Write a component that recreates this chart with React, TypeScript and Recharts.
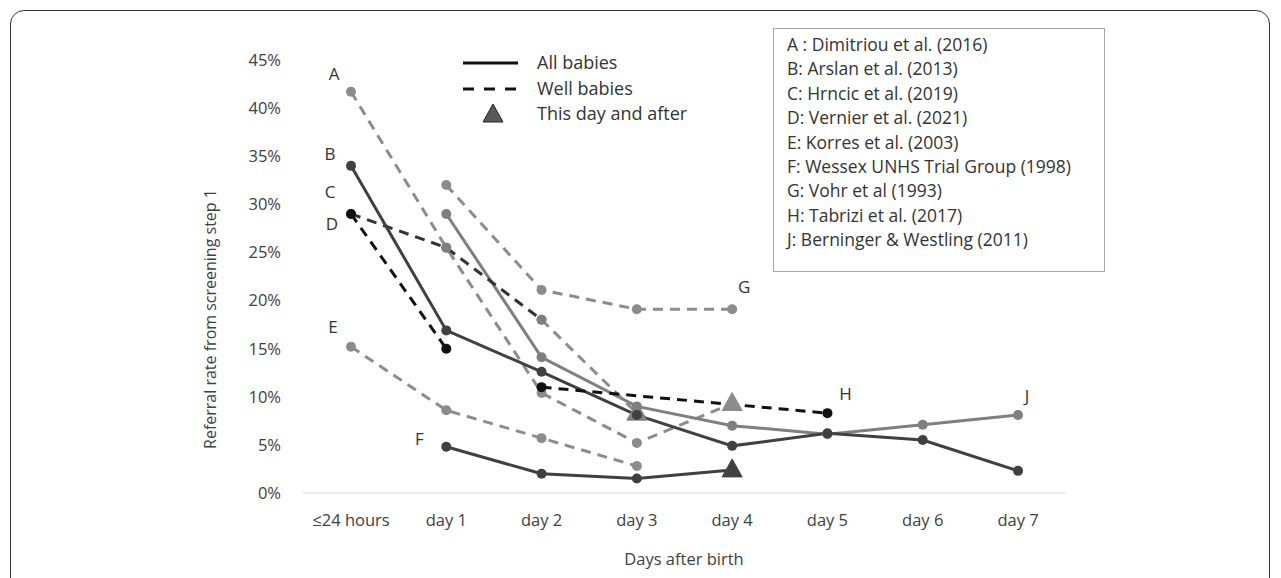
import React from 'react'
import { LineChart, Line, XAxis, YAxis, Label } from 'recharts'

// categories on the x axis
const days = ['≤24 hours', 'day 1', 'day 2', 'day 3', 'day 4', 'day 5', 'day 6', 'day 7']
const yTicks = [0, 5, 10, 15, 20, 25, 30, 35, 40, 45]

// referral rates (%) per study
const dimitriou = [41.7, 25.5, 10.4, 5.2, 9.3, null, null, null]
const arslan = [34.0, 16.9, 12.6, 8.1, 4.9, 6.2, 5.5, 2.3]
const hrncic = [29.0, 15.0, null, null, null, null, null, null]
const vernier = [29.0, 25.5, 18.0, 8.3, null, null, null, null]
const korres = [15.2, 8.6, 5.7, 2.8, null, null, null, null]
const wessex = [null, 4.8, 2.0, 1.5, 2.4, null, null, null]
const vohr = [null, 32.0, 21.1, 19.1, 19.1, null, null, null]
const tabrizi = [null, null, 11.0, null, null, 8.3, null, null]
const berninger = [null, 29.0, 14.1, 9.0, 7.0, 6.1, 7.1, 8.1]

// "this day and after" points
const afterA = 'day 4'
const afterD = 'day 3'
const afterF = 'day 4'

const studies = [
  'A : Dimitriou et al. (2016)',
  'B: Arslan et al. (2013)',
  'C: Hrncic et al. (2019)',
  'D: Vernier et al. (2021)',
  'E: Korres et al. (2003)',
  'F: Wessex UNHS Trial Group (1998)',
  'G: Vohr et al (1993)',
  'H: Tabrizi et al. (2017)',
  'J: Berninger & Westling (2011)',
]

const data = days.map((d, i) => ({
  day: d,
  A: dimitriou[i],
  B: arslan[i],
  C: hrncic[i],
  D1: i <= 2 ? vernier[i] : null,
  D2: i >= 2 ? vernier[i] : null,
  E: korres[i],
  F: wessex[i],
  G: vohr[i],
  H: tabrizi[i],
  J: berninger[i],
}))

const DARK = '#404040'
const GRAY = '#8c8c8c'
const MID = '#7f7f7f'
const BLACK = '#111111'

const makeDot = (fill: string, tri?: string, r = 5) => (p: any) => {
  if (p.value == null || p.cx == null) return <g key={`e-${p.index}`} />
  if (tri && p.payload.day === tri) {
    const { cx, cy } = p
    return (
      <polygon
        key={`t-${p.index}`}
        points={`${cx},${cy - 11} ${cx - 10},${cy + 7} ${cx + 10},${cy + 7}`}
        fill={fill}
        stroke={fill}
        strokeWidth={1}
      />
    )
  }
  return <circle key={`c-${p.index}`} cx={p.cx} cy={p.cy} r={r} fill={fill} stroke="none" />
}

const letter = (ch: string, at: number, dx: number, dy: number) => (p: any) => {
  if (p.index !== at || p.x == null) return null
  return (
    <text x={p.x + dx} y={p.y + dy} fill="#333" fontSize={17} textAnchor="middle" dominantBaseline="central">
      {ch}
    </text>
  )
}

export default function App() {
  return (
    <div style={{ position: 'fixed', left: 0, top: 0, width: 1281, height: 578, background: '#fff', overflow: 'hidden', fontFamily: "'Open Sans', sans-serif" }}>
      <div style={{ position: 'absolute', left: 10, top: 10, width: 1260, height: 640, border: '1px solid #333', borderRadius: 14, boxSizing: 'border-box' }} />

      <LineChart width={1281} height={578} data={data} margin={{ top: 60, right: 215, bottom: 55, left: 243 }}>
        <XAxis
          dataKey="day"
          padding={{ left: 48, right: 48 }}
          tickLine={false}
          tickSize={0}
          tickMargin={21}
          stroke="#d9d9d9"
          height={30}
          tick={{ fill: '#404040', fontSize: 16.5 }}
          interval={0}
        >
          <Label
            content={() => (
              <text x={684} y={558} textAnchor="middle" dominantBaseline="central" fill="#404040" fontSize={16.5}>
                Days after birth
              </text>
            )}
          />
        </XAxis>
        <YAxis
          domain={[0, 45]}
          ticks={yTicks}
          tickFormatter={(v) => `${v}%`}
          axisLine={false}
          tickLine={false}
          tickSize={0}
          tickMargin={22}
          width={60}
          tick={{ fill: '#404040', fontSize: 16.5 }}
        >
          <Label
            content={() => (
              <text x={210} y={319} transform="rotate(-90 210 319)" textAnchor="middle" dominantBaseline="central" fill="#404040" fontSize={16}>
                Referral rate from screening step 1
              </text>
            )}
          />
        </YAxis>

        <Line dataKey="E" stroke={GRAY} strokeWidth={3} strokeDasharray="10 7" dot={makeDot(GRAY)} label={letter('E', 0, -18, -20)} isAnimationActive={false} />
        <Line dataKey="A" stroke={GRAY} strokeWidth={3} strokeDasharray="10 7" dot={makeDot(GRAY, afterA)} label={letter('A', 0, -17, -18)} isAnimationActive={false} />
        <Line dataKey="G" stroke={GRAY} strokeWidth={3} strokeDasharray="10 7" dot={makeDot(GRAY)} label={letter('G', 4, 12, -23)} isAnimationActive={false} />
        <Line dataKey="J" stroke={MID} strokeWidth={3} dot={makeDot(MID)} label={letter('J', 7, 9, -20)} isAnimationActive={false} />
        <Line dataKey="D2" stroke={GRAY} strokeWidth={3} strokeDasharray="10 7" dot={makeDot(MID, afterD)} isAnimationActive={false} />
        <Line dataKey="D1" stroke="#333" strokeWidth={3} strokeDasharray="10 7" dot={makeDot(MID)} label={letter('D', 0, -19, 10)} isAnimationActive={false} />
        <Line dataKey="F" stroke={DARK} strokeWidth={3} dot={makeDot(DARK, afterF)} label={letter('F', 1, -27, -8)} isAnimationActive={false} />
        <Line dataKey="B" stroke={DARK} strokeWidth={3} dot={makeDot(DARK)} label={letter('B', 0, -21, -12)} isAnimationActive={false} />
        <Line dataKey="H" stroke={BLACK} strokeWidth={3} strokeDasharray="10 7" connectNulls dot={makeDot(BLACK)} label={letter('H', 5, 18, -20)} isAnimationActive={false} />
        <Line dataKey="C" stroke={BLACK} strokeWidth={3} strokeDasharray="10 7" dot={makeDot(BLACK)} label={letter('C', 0, -21, -22)} isAnimationActive={false} />
      </LineChart>

      {/* line style key */}
      <svg style={{ position: 'absolute', left: 455, top: 50 }} width={70} height={80}>
        <line x1={8} x2={63} y1={13} y2={13} stroke="#111" strokeWidth={3} />
        <line x1={8} x2={63} y1={39} y2={39} stroke="#111" strokeWidth={3} strokeDasharray="11 10" />
        <polygon points="38,54 28,72 48,72" fill="#595959" stroke="#222" strokeWidth={1} />
      </svg>
      <div style={{ position: 'absolute', left: 537, top: 50, fontSize: 18, color: '#333', lineHeight: '25.5px' }}>
        <div>All babies</div>
        <div>Well babies</div>
        <div>This day and after</div>
      </div>

      {/* study key */}
      <div style={{ position: 'absolute', left: 773, top: 28, width: 332, height: 244, border: '1px solid #a6a6a6', boxSizing: 'border-box', padding: '3px 0 0 13px', fontSize: 17.5, color: '#333', lineHeight: '24.4px' }}>
        {studies.map((s) => (
          <div key={s} style={{ whiteSpace: 'nowrap' }}>{s}</div>
        ))}
      </div>
    </div>
  )
}
